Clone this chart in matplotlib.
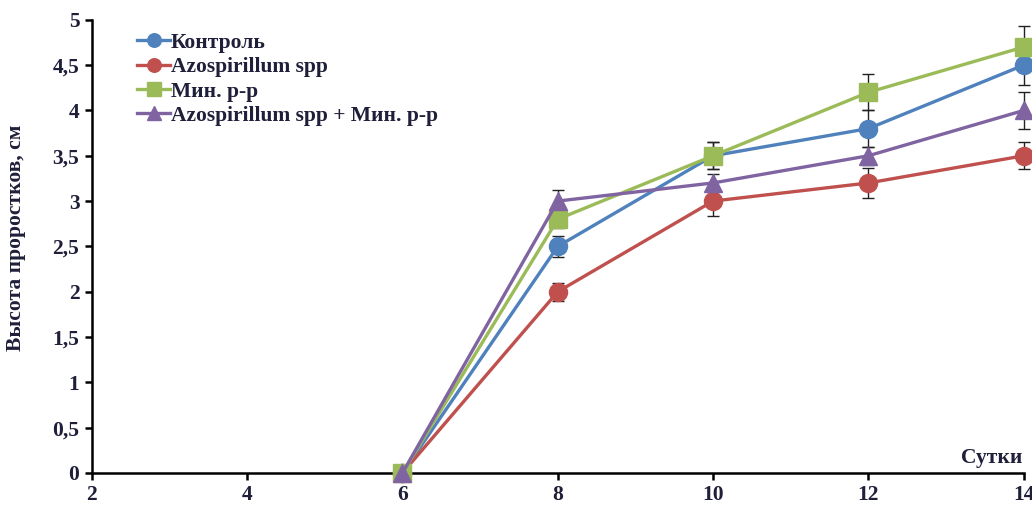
import numpy as np
import matplotlib
matplotlib.use('Agg')
import matplotlib.pyplot as plt

# ── data ──────────────────────────────────────────────────────────────────────
days = [6, 8, 10, 12, 14]

control     = [0, 2.5, 3.5, 3.8, 4.5]
control_err = [0, 0.12, 0.15, 0.2, 0.22]
azo         = [0, 2.0, 3.0, 3.2, 3.5]
azo_err     = [0, 0.1, 0.16, 0.17, 0.15]
mineral     = [0, 2.8, 3.5, 4.2, 4.7]
mineral_err = [0, 0.1, 0.15, 0.2, 0.23]
combo       = [0, 3.0, 3.2, 3.5, 4.0]
combo_err   = [0, 0.12, 0.1, 0.1, 0.2]

labels = ['Контроль', 'Azospirillum spp', 'Мин. р-р', 'Azospirillum spp + Мин. р-р']
x_ticks = [2, 4, 6, 8, 10, 12, 14]
y_ticks = [0, 0.5, 1, 1.5, 2, 2.5, 3, 3.5, 4, 4.5, 5]

# ── style ─────────────────────────────────────────────────────────────────────
TXT = '#1f1f3a'
series = [
    (control, control_err, '#4F81BD', 'o'),
    (azo,     azo_err,     '#C0504D', 'o'),
    (mineral, mineral_err, '#9BBB59', 's'),
    (combo,   combo_err,   '#8064A2', '^'),
]
plt.rcParams['font.family'] = ['Liberation Serif', 'DejaVu Serif']

fig = plt.figure(figsize=(10.32, 5.08), dpi=100)
ax = fig.add_axes([0.089, 0.069, 0.903, 0.892])

for (vals, errs, col, mk), lab in zip(series, labels):
    ax.errorbar(days, vals, yerr=errs, fmt='none', ecolor='#222222',
                elinewidth=1.0, capsize=4, capthick=1.0, zorder=2, clip_on=False)
    ax.plot(days, vals, color=col, lw=2.4, marker=mk, markersize=13,
            label=lab, zorder=3, clip_on=False)

ax.set_xlim(2, 14)
ax.set_ylim(0, 5)
ax.set_xticks(x_ticks)
ax.set_yticks(y_ticks)
ax.set_yticklabels([f'{v:g}'.replace('.', ',') for v in y_ticks])

for sp in ['top', 'right']:
    ax.spines[sp].set_visible(False)
for sp in ['left', 'bottom']:
    ax.spines[sp].set_linewidth(1.8)
ax.tick_params(direction='out', width=1.8, length=5, labelsize=15.5,
               labelcolor=TXT, pad=4)
for t in ax.get_xticklabels() + ax.get_yticklabels():
    t.set_fontweight('bold')

ax.set_ylabel('Высота проростков, см', fontsize=15.5, fontweight='bold',
              color=TXT)
ax.yaxis.set_label_coords(-0.071, 0.52)
ax.text(0.998, 0.012, 'Сутки', transform=ax.transAxes, ha='right', va='bottom',
        fontsize=15.5, fontweight='bold', color=TXT)

ax.legend(loc='upper left', bbox_to_anchor=(0.035, 1.0), frameon=False,
          prop={'weight': 'bold', 'size': 15.5}, handlelength=1.5,
          handletextpad=0.05, labelspacing=0.2, markerscale=0.75,
          labelcolor=TXT, borderaxespad=0.2)

plt.savefig('out.png', dpi=100)
